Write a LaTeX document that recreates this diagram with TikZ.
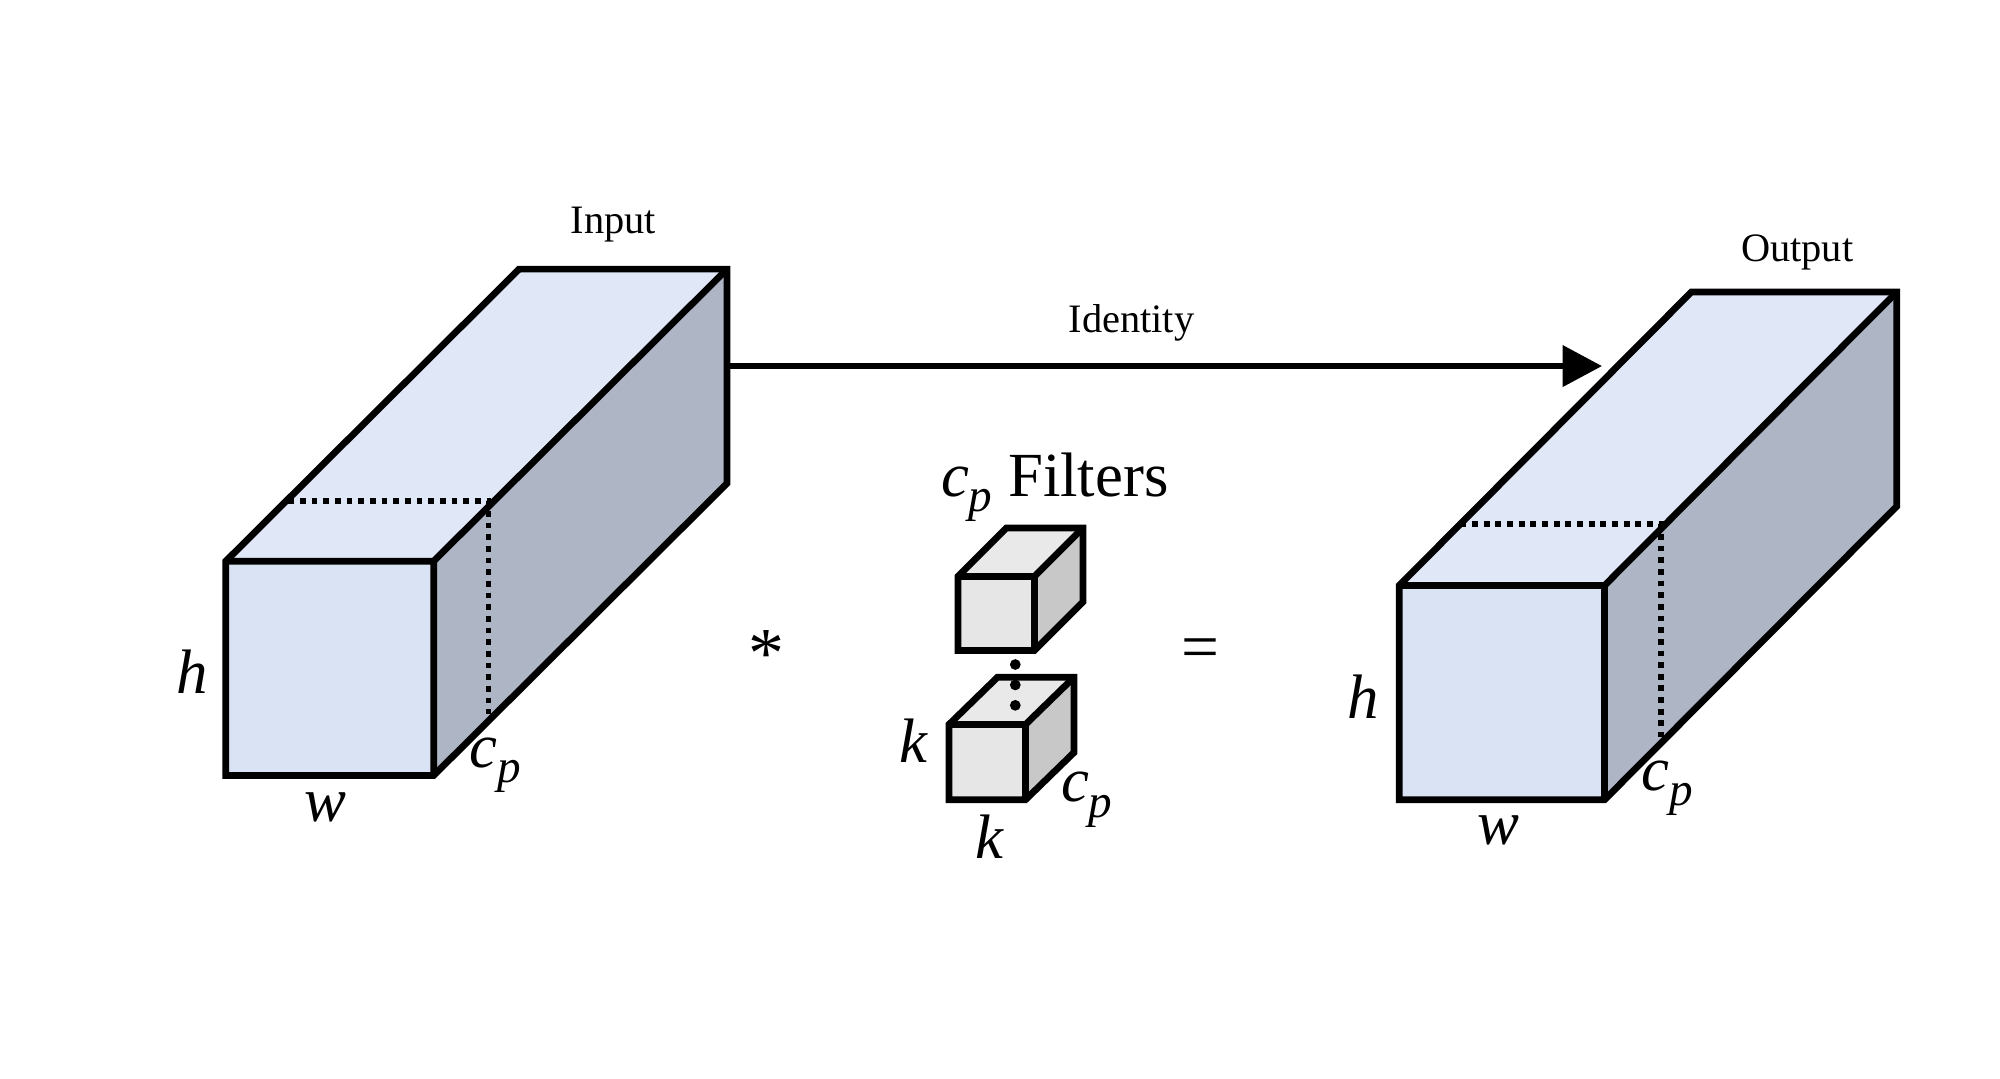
\documentclass[tikz,border=0pt]{standalone}
\usepackage{fontspec}
\setmainfont{Liberation Serif}
\usepackage{xcolor}
\usetikzlibrary{arrows.meta}

\definecolor{frontblue}{RGB}{218,227,243}
\definecolor{topblue}{RGB}{224,231,246}
\definecolor{sideblue}{RGB}{174,182,198}
\definecolor{frontgray}{RGB}{230,230,230}
\definecolor{topgray}{RGB}{233,233,233}
\definecolor{sidegray}{RGB}{200,200,200}

\newcommand{\cp}{\textit{c}\raisebox{-3.4pt}{\fontsize{10.5}{10.5}\selectfont\textit{p}}}

% front top-left (#1,#2), width #3, height #4, depth (#5,#6), fills #7 #8 #9
\newcommand{\drawbox}[9]{%
  \fill[fill=#7] (#1,#2) rectangle ++(#3,#4);
  \fill[fill=#8] (#1,#2) -- ++(#5,#6) -- ++(#3,0) -- ++({-(#5)},{-(#6)}) -- cycle;
  \fill[fill=#9] ({#1+#3},#2) -- ++(#5,#6) -- ++(0,#4) -- ++({-(#5)},{-(#6)}) -- cycle;
  \draw[face] (#1,#2) -- ++(#5,#6) -- ++(#3,0) -- ++(0,#4) -- ++({-(#5)},{-(#6)})
    -- ++({-(#3)},0) -- cycle;
  \draw[face] (#1,#2) -- ++(#3,0) -- ++(#5,#6) ++({-(#5)},{-(#6)}) -- ++(0,#4);
}

\tikzset{
  face/.style={draw=black,line width=1.5pt,line join=miter},
  hidden/.style={line width=1.3pt,dash pattern=on 1.3pt off 1.3pt},
  dimlabel/.style={font=\fontsize{14}{14}\selectfont\itshape,inner sep=0pt},
  caption/.style={font=\fontsize{9}{11}\selectfont,inner sep=0pt},
}

\begin{document}
\begin{tikzpicture}[x=0.01cm,y=-0.01cm]
    \useasboundingbox (0,0) rectangle (1568,845.9);

    % input
    \drawbox{177}{440}{163}{168}{230}{-229}{frontblue}{topblue}{sideblue}
    \draw[hidden] (226,393) -- (383,393) -- (383,560);
    \node[caption] (input) at (481,176) {Input};
    \node[dimlabel] (in-h) at (151,527) {h};
    \node[dimlabel] (in-w) at (255,633) {w};
    \node[dimlabel] (in-c) at (388,600) {\cp};

    % output
    \drawbox{1097}{459}{161}{168}{229}{-230}{frontblue}{topblue}{sideblue}
    \draw[hidden] (1145,411) -- (1302,411) -- (1302,578);
    \node[caption] (output) at (1409,198) {Output};
    \node[dimlabel] (out-h) at (1069,546) {h};
    \node[dimlabel] (out-w) at (1175,651) {w};
    \node[dimlabel] (out-c) at (1307,618) {\cp};

    % identity
    \coordinate (id-start) at (568,287);
    \coordinate (id-end) at (1256,287);
    \draw[line width=1.4pt,-{Triangle[length=8.8pt,width=9pt]}] (id-start) -- (id-end);
    \node[caption] (identity) at (887,253) {Identity};

    % filters
    \node[font=\fontsize{14}{14}\selectfont,inner sep=0pt] (filters) at (827,382) {\cp\ Filters};
    \drawbox{751}{452}{60}{58}{38}{-38}{frontgray}{topgray}{sidegray}
    \drawbox{744}{568}{60}{59}{38}{-37}{frontgray}{topgray}{sidegray}
    \foreach \y in {521,537,553}
        \fill (796,\y) circle[radius=1.2pt];
    \node[dimlabel] (k-left) at (716,581) {k};
    \node[dimlabel] (k-below) at (776,656) {k};
    \node[dimlabel] (k-c) at (852,627) {\cp};

    \node[font=\fontsize{16}{16}\selectfont,inner sep=0pt] (conv) at (601,513) {*};
    \node[font=\fontsize{15}{15}\selectfont,inner sep=0pt] (equals) at (941,513) {=};
\end{tikzpicture}
\end{document}
